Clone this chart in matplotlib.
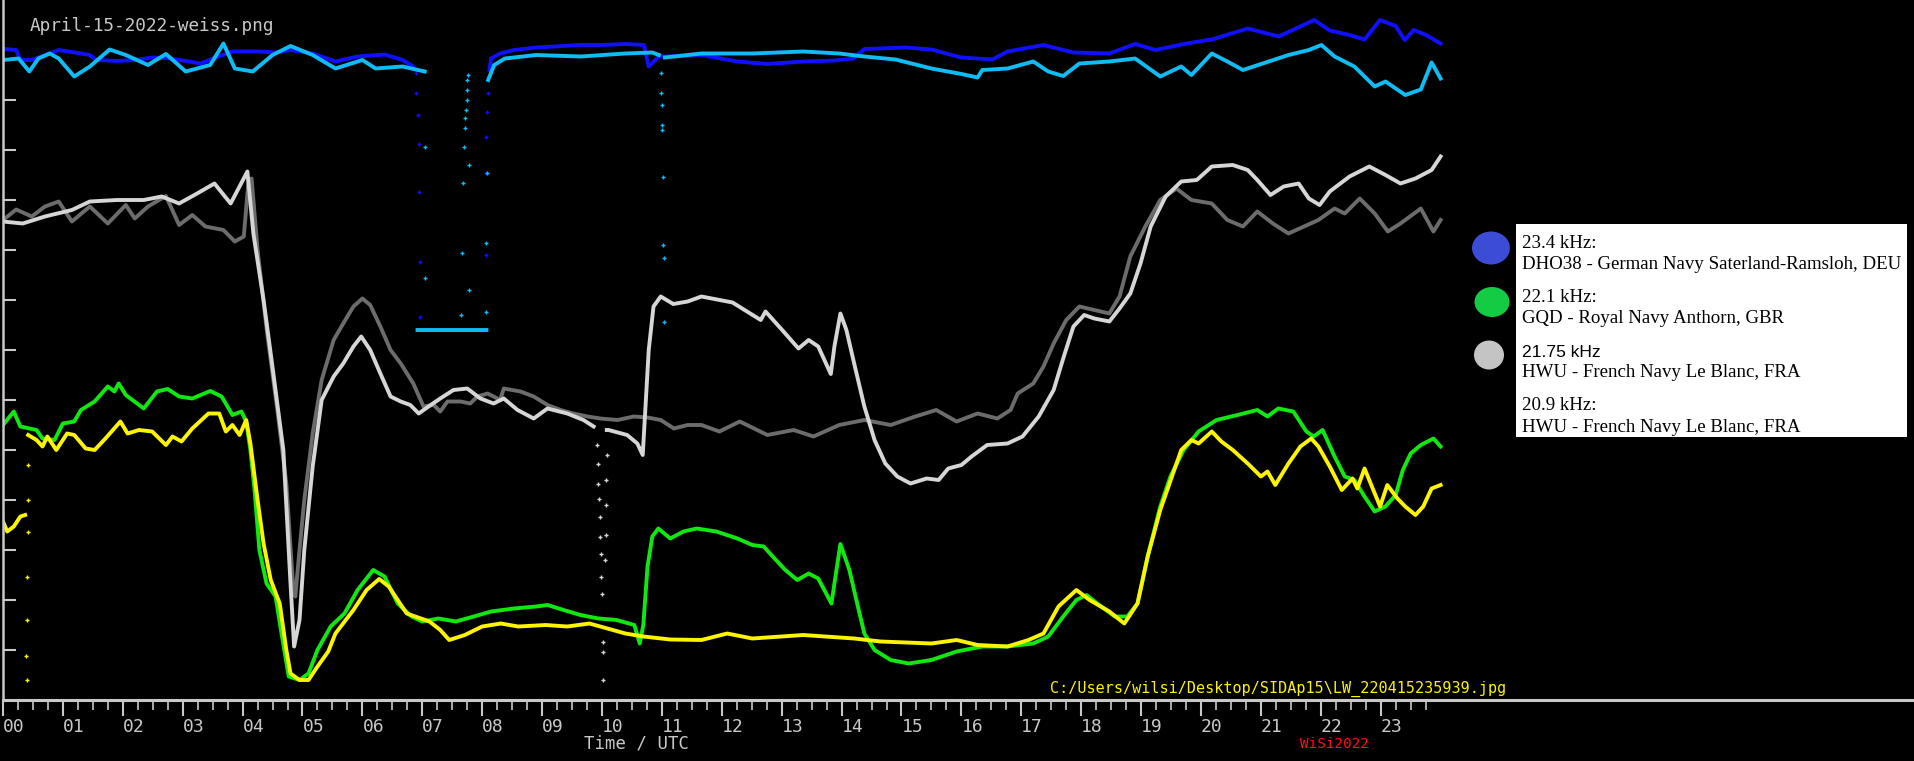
import numpy as np
import matplotlib.pyplot as plt
from matplotlib.patches import Ellipse, Rectangle

nan = np.nan

# hours (UTC) and signal level in tick units (13 ticks on the y axis, no labels)
# DHO38 23.4 kHz, dark blue trace
blue_h = [0.03, 0.22, 0.29, 0.48, 0.93, 1.2, 1.45, 1.56, 1.9, 2.2, 2.5, 2.8, 3.05, 3.3, 3.55, 3.83,
          4.28, 4.55, 4.8, 5.17, 5.55, 5.92, 6.37, 6.67, 6.85, nan,
          8.12, 8.15, 8.3, 8.53, 8.9, 9.2, 9.64, 10.0, 10.4, 10.7, 10.78, 10.95, 11.06, 11.66, 12.26,
          12.76, 13.36, 13.88, 14.2, 14.38, 15.07, 15.5, 16.0, 16.52, 16.77, 17.37, 17.87, 18.47,
          18.9, 19.24, 19.76, 20.18, 20.78, 21.3, 21.89, 22.15, 22.48, 22.73, 22.99, 23.25, 23.4,
          23.55, 23.76, 24.0]
blue_v = [13.02, 13.0, 12.8, 12.8, 13.0, 12.95, 12.9, 12.8, 12.78, 12.8, 12.85, 12.83, 12.78, 12.73,
          12.85, 12.97, 12.97, 12.95, 13.0, 12.93, 12.77, 12.87, 12.91, 12.8, 12.67, nan,
          12.6, 12.83, 12.93, 13.0, 13.05, 13.07, 13.1, 13.1, 13.12, 13.1, 12.67, 12.87, 12.87, 12.9,
          12.77, 12.72, 12.77, 12.79, 12.83, 13.02, 13.05, 13.01, 12.85, 12.81, 12.97, 13.1, 12.95,
          12.93, 13.12, 13.0, 13.13, 13.21, 13.43, 13.27, 13.6, 13.39, 13.3, 13.21, 13.6, 13.48, 13.2,
          13.4, 13.3, 13.13]
blue_dot_h = [6.90, 6.90, 6.92, 6.94, 6.94, 6.96, 6.96, 8.06, 8.07, 8.07, 8.08, 8.09, 8.10]
blue_dot_v = [12.54, 12.14, 11.7, 11.12, 10.16, 8.76, 7.66, 8.9, 10.54, 11.26, 11.76, 12.14, 12.46]

# DHO38 second trace, light blue
cyan_h = [0.0, 0.26, 0.44, 0.59, 0.78, 0.93, 1.19, 1.45, 1.78, 2.05, 2.42, 2.72, 3.05, 3.46, 3.68,
          3.87, 4.17, 4.5, 4.8, 5.17, 5.55, 6.0, 6.22, 6.67, 7.04, nan,
          6.92, 8.07, nan,
          8.1, 8.2, 8.38, 8.9, 9.64, 10.39, 10.84, 10.95, nan,
          11.05, 11.66, 12.51, 13.36, 13.96, 14.38, 14.9, 15.5, 16.0, 16.27, 16.35, 16.77, 17.2,
          17.45, 17.7, 17.97, 18.47, 18.9, 19.32, 19.67, 19.84, 20.18, 20.44, 20.7, 21.03, 21.46,
          21.8, 22.01, 22.23, 22.56, 22.9, 23.08, 23.41, 23.67, 23.85, 24.0]
cyan_v = [12.8, 12.83, 12.57, 12.83, 12.93, 12.83, 12.47, 12.67, 13.01, 12.9, 12.7, 12.92, 12.57,
          12.7, 13.13, 12.63, 12.57, 12.9, 13.08, 12.9, 12.63, 12.8, 12.63, 12.67, 12.57, nan,
          7.4, 7.4, nan,
          12.4, 12.7, 12.83, 12.9, 12.87, 12.93, 12.95, 12.9, nan,
          12.85, 12.93, 12.93, 12.97, 12.93, 12.87, 12.81, 12.63, 12.52, 12.45, 12.6, 12.63, 12.77,
          12.57, 12.48, 12.73, 12.77, 12.83, 12.47, 12.67, 12.5, 12.93, 12.77, 12.6, 12.73, 12.9,
          13.0, 13.1, 12.87, 12.67, 12.27, 12.37, 12.1, 12.21, 12.75, 12.43]
cyan_dot_h = [7.05, 7.05, 7.64, 7.66, 7.68, 7.70, 7.71, 7.72, 7.73, 7.74, 7.74, 7.75, 7.76, 7.78,
              7.78, 8.06, 8.07, 8.08, 10.98, 10.99, 11.0, 11.0, 11.01, 11.02, 11.02, 11.03, 11.03]
cyan_dot_v = [11.06, 8.44, 7.7, 8.94, 10.34, 11.06, 11.44, 11.64, 11.8, 12.0, 12.2, 12.4, 12.5, 10.7,
              8.2, 7.76, 9.14, 10.54, 12.54, 12.14, 11.9, 11.5, 11.4, 10.46, 9.1, 8.84, 7.56]

# HWU 21.75 kHz, light grey trace
lg_h = [0.0, 0.33, 0.7, 1.15, 1.45, 1.9, 2.35, 2.65, 2.94, 3.24, 3.53, 3.8, 4.08, 4.18, 4.35, 4.52,
        4.68, 4.8, 4.86, 4.95, 5.03, 5.17, 5.32, 5.52, 5.68, 5.85, 5.98, 6.13, 6.3, 6.47, 6.64, 6.8,
        6.94, 7.14, 7.3, 7.52, 7.75, 7.97, 8.19, 8.36, 8.59, 8.86, 9.09, 9.42, 9.69, 9.86, nan,
        10.08, 10.11, 10.42, 10.59, 10.68, 10.78, 10.86, 10.98, 11.19, 11.43, 11.66, 12.18, 12.38,
        12.65, 12.73, 13.03, 13.28, 13.45, 13.61, 13.82, 13.88, 13.98, 14.08, 14.21, 14.38, 14.55,
        14.73, 14.93, 15.15, 15.42, 15.62, 15.78, 16.0, 16.17, 16.43, 16.77, 17.02, 17.29, 17.54,
        17.71, 17.87, 18.05, 18.22, 18.47, 18.64, 18.82, 18.99, 19.16, 19.41, 19.67, 19.93, 20.18,
        20.53, 20.78, 20.94, 21.16, 21.38, 21.63, 21.8, 21.98, 22.15, 22.48, 22.81, 23.08, 23.33,
        23.58, 23.85, 24.0]
lg_v = [9.57, 9.53, 9.67, 9.8, 9.97, 10.0, 10.0, 10.07, 9.93, 10.13, 10.33, 9.93, 10.57, 9.33, 8.0,
        6.47, 5.0, 2.33, 1.07, 1.6, 3.0, 4.67, 6.0, 6.47, 6.73, 7.07, 7.27, 7.0, 6.53, 6.07, 5.97, 5.9,
        5.73, 5.9, 6.03, 6.2, 6.23, 6.03, 5.93, 6.03, 5.8, 5.63, 5.83, 5.73, 5.6, 5.47, nan,
        5.4, 5.4, 5.3, 5.13, 4.9, 7.0, 7.87, 8.07, 7.92, 7.97, 8.07, 7.95, 7.8,
        7.6, 7.77, 7.37, 7.03, 7.2, 7.07, 6.52, 7.07, 7.73, 7.4, 6.73, 5.87, 5.2,
        4.73, 4.47, 4.33, 4.43, 4.4, 4.63, 4.7, 4.87, 5.1, 5.13, 5.27, 5.67, 6.2,
        6.87, 7.47, 7.7, 7.63, 7.57, 7.83, 8.13, 8.73, 9.47, 10.07, 10.37, 10.4, 10.67,
        10.7, 10.6, 10.4, 10.1, 10.27, 10.33, 10.03, 9.9, 10.17, 10.47, 10.67, 10.5, 10.33,
        10.43, 10.6, 10.87]
lg_dot_h = [9.91, 9.93, 9.94, 9.95, 9.96, 9.97, 9.98, 9.99, 10.0, 10.01, 10.02, 10.02, 10.05, 10.06,
            10.06, 10.07, 10.08]
lg_dot_v = [5.1, 4.73, 4.33, 4.03, 3.67, 3.27, 2.93, 2.47, 2.13, 1.17, 0.97, 0.4, 2.8, 3.3, 3.9,
            4.4, 4.9]

# HWU second trace, dark grey
dg_h = [0.0, 0.22, 0.48, 0.7, 0.93, 1.15, 1.45, 1.75, 2.05, 2.2, 2.42, 2.72, 2.94, 3.16, 3.38, 3.68,
        3.87, 4.02, 4.1, 4.15, 4.25, 4.41, 4.58, 4.73, 4.84, 4.88, 4.95, 5.03, 5.17, 5.32, 5.52, 5.68,
        5.85, 6.0, 6.13, 6.3, 6.47, 6.64, 6.85, 7.02, 7.19, 7.3, 7.42, 7.64, 7.8, 7.92, 8.09, 8.19,
        8.3, 8.36, 8.64, 8.86, 9.09, 9.31, 9.52, 9.76, 9.97, 10.26, 10.53, 10.76, 10.98, 11.2, 11.43,
        11.66, 11.96, 12.3, 12.76, 13.2, 13.53, 13.96, 14.38, 14.82, 15.23, 15.58, 15.92, 16.27,
        16.6, 16.82, 16.94, 17.2, 17.37, 17.54, 17.75, 17.97, 18.22, 18.47, 18.64, 18.82, 19.07,
        19.32, 19.59, 19.84, 20.18, 20.44, 20.7, 20.94, 21.2, 21.46, 21.72, 21.96, 22.23, 22.4,
        22.65, 22.9, 23.12, 23.33, 23.67, 23.88, 24.0]
dg_v = [9.6, 9.81, 9.67, 9.87, 9.97, 9.57, 9.87, 9.53, 9.9, 9.63, 9.87, 10.08, 9.5, 9.7, 9.47, 9.4,
        9.17, 9.27, 10.4, 10.43, 9.0, 7.33, 5.8, 4.33, 2.33, 2.07, 3.0, 4.0, 5.33, 6.4, 7.2, 7.53,
        7.87, 8.03, 7.9, 7.47, 7.0, 6.73, 6.33, 5.87, 5.9, 5.77, 5.97, 5.97, 5.93, 6.07, 6.13, 6.07,
        6.0, 6.23, 6.17, 6.07, 5.9, 5.8, 5.73, 5.67, 5.63, 5.6, 5.67, 5.65, 5.6, 5.43, 5.5,
        5.5, 5.37, 5.57, 5.3, 5.4, 5.27, 5.5, 5.6, 5.5, 5.67, 5.8, 5.57, 5.73,
        5.63, 5.8, 6.13, 6.33, 6.67, 7.13, 7.6, 7.87, 7.8, 7.73, 8.07, 8.87, 9.47,
        10.0, 10.23, 10.0, 9.93, 9.6, 9.47, 9.77, 9.53, 9.33, 9.47, 9.6, 9.83, 9.73,
        10.03, 9.73, 9.37, 9.53, 9.83, 9.37, 9.6]

# GQD 22.1 kHz, green trace
gr_h = [0.0, 0.18, 0.29, 0.56, 0.66, 0.86, 1.0, 1.19, 1.3, 1.53, 1.75, 1.86, 1.93, 2.05, 2.35, 2.57,
        2.75, 2.94, 3.16, 3.46, 3.65, 3.83, 3.98, 4.06, 4.13, 4.2, 4.28, 4.4, 4.55, 4.65, 4.77, 4.95,
        5.1, 5.25, 5.47, 5.7, 5.92, 6.18, 6.37, 6.59, 6.82, 7.0, 7.27, 7.56, 7.86, 8.15, 8.53, 8.9,
        9.09, 9.36, 9.64, 9.94, 10.24, 10.54, 10.63, 10.69, 10.76, 10.84, 10.94, 11.14, 11.36, 11.58,
        11.91, 12.26, 12.51, 12.7, 12.85, 13.06, 13.26, 13.45, 13.61, 13.83, 13.98, 14.13, 14.26,
        14.38, 14.55, 14.82, 15.12, 15.5, 15.92, 16.35, 16.77, 17.2, 17.45, 17.7, 17.92, 18.09, 18.3,
        18.56, 18.77, 18.94, 19.11, 19.32, 19.49, 19.71, 19.96, 20.26, 20.61, 20.94, 21.11, 21.29,
        21.54, 21.76, 21.88, 22.03, 22.23, 22.4, 22.56, 22.73, 22.9, 23.08, 23.25, 23.37, 23.5,
        23.67, 23.88, 24.0]
gr_v = [5.5, 5.77, 5.47, 5.4, 5.23, 5.2, 5.53, 5.57, 5.8, 5.97, 6.27, 6.17, 6.33, 6.1, 5.83, 6.17,
        6.22, 6.07, 6.03, 6.18, 6.07, 5.7, 5.77, 5.57, 5.0, 4.2, 3.0, 2.33, 2.07, 1.33, 0.47, 0.4,
        0.53, 1.0, 1.47, 1.73, 2.2, 2.6, 2.47, 1.93, 1.67, 1.57, 1.63, 1.57, 1.67, 1.77, 1.83, 1.87,
        1.9, 1.8, 1.7, 1.63, 1.6, 1.5, 1.13, 1.5, 2.67, 3.27, 3.43, 3.23, 3.37, 3.43,
        3.37, 3.23, 3.1, 3.07, 2.87, 2.6, 2.4, 2.53, 2.43, 1.93, 3.12, 2.6, 1.93,
        1.33, 1.0, 0.8, 0.73, 0.8, 0.97, 1.07, 1.07, 1.13, 1.27, 1.67, 2.0, 2.1, 1.9,
        1.67, 1.67, 1.93, 2.87, 3.87, 4.47, 5.0, 5.37, 5.6, 5.7, 5.8, 5.67, 5.83,
        5.77, 5.37, 5.27, 5.4, 4.87, 4.47, 4.4, 4.07, 3.77, 3.87, 4.1, 4.6, 4.93,
        5.1, 5.23, 5.07]

# 20.9 kHz, yellow trace
ye_h = [0.0, 0.07, 0.18, 0.29, 0.37, nan,
        0.42, 0.56, 0.66, 0.74, 0.89, 1.07, 1.19, 1.38, 1.53, 1.71, 1.96, 2.08, 2.27, 2.49, 2.72, 2.83,
        2.98, 3.16, 3.43, 3.61, 3.72, 3.83, 3.95, 4.06, 4.13, 4.25, 4.35, 4.47, 4.62, 4.73, 4.8, 4.95,
        5.1, 5.25, 5.43, 5.55, 5.85, 6.07, 6.28, 6.44, 6.74, 7.12, 7.3, 7.45, 7.71, 8.0, 8.31, 8.6,
        9.06, 9.42, 9.79, 10.09, 10.39, 10.69, 11.14, 11.66, 12.09, 12.51, 13.36, 14.21, 14.65, 15.5,
        15.92, 16.27, 16.77, 17.12, 17.37, 17.62, 17.92, 18.14, 18.47, 18.72, 18.94, 19.11, 19.32,
        19.67, 19.84, 19.96, 20.18, 20.34, 20.53, 20.78, 21.0, 21.11, 21.24, 21.46, 21.66, 21.84,
        21.96, 22.15, 22.35, 22.53, 22.61, 22.73, 22.99, 23.11, 23.28, 23.41, 23.58, 23.71, 23.85,
        24.0]
ye_v = [3.57, 3.37, 3.47, 3.67, 3.7, nan,
        5.3, 5.2, 5.07, 5.27, 5.0, 5.33, 5.3, 5.03, 5.0, 5.23, 5.57, 5.33, 5.4, 5.37, 5.1, 5.27,
        5.17, 5.43, 5.73, 5.73, 5.37, 5.5, 5.3, 5.6, 5.13, 4.0, 3.13, 2.4, 1.93, 1.0, 0.53, 0.4,
        0.4, 0.67, 0.97, 1.33, 1.8, 2.2, 2.42, 2.27, 1.73, 1.57, 1.4, 1.2, 1.3, 1.47, 1.53, 1.47,
        1.5, 1.47, 1.53, 1.43, 1.33, 1.27, 1.21, 1.2, 1.33, 1.23, 1.3, 1.23, 1.17, 1.13,
        1.2, 1.1, 1.07, 1.2, 1.33, 1.87, 2.2, 2.0, 1.77, 1.53, 1.93, 2.87, 3.8,
        5.0, 5.2, 5.13, 5.37, 5.17, 5.0, 4.73, 4.47, 4.57, 4.3, 4.73, 5.07, 5.23,
        5.07, 4.67, 4.2, 4.43, 4.23, 4.63, 3.87, 4.3, 4.03, 3.87, 3.7, 3.87, 4.23,
        4.3]
ye_dot_h = [0.41, 0.41, 0.41, 0.40, 0.40, 0.39, 0.40]
ye_dot_v = [4.7, 4.0, 3.37, 2.47, 1.6, 0.88, 0.4]

hour_labels = ["%02d" % h for h in range(24)]

legend_rows = [
    ("23.4 kHz:", "serif"), ("DHO38 - German Navy Saterland-Ramsloh, DEU", "serif"),
    ("22.1 kHz:", "serif"), ("GQD - Royal Navy Anthorn, GBR", "serif"),
    ("21.75 kHz", "sans"), ("HWU - French Navy Le Blanc, FRA", "serif"),
    ("20.9 kHz:", "serif"), ("HWU - French Navy Le Blanc, FRA", "serif"),
]

W, H = 1914, 761
AX = "#c8c8c8"
MONO = "DejaVu Sans Mono"

fig = plt.figure(figsize=(W / 100, H / 100), dpi=100, facecolor="black")
ax = fig.add_axes([3 / W, 1 - 700 / H, 1 - 3 / W, 700 / H])
ax.set_facecolor("black")
ax.set_xlim(0, (W - 3) / 59.9)
ax.set_ylim(0, 14)

lw = 2.8
ax.plot(dg_h, dg_v, color="#6c6c6c", lw=lw)
ax.plot(lg_h, lg_v, color="#d6d6d6", lw=lw)
ax.plot(lg_dot_h, lg_dot_v, "+", color="#d6d6d6", ms=3, mew=1)
ax.plot(gr_h, gr_v, color="#10e810", lw=lw)
ax.plot(ye_h, ye_v, color="#fcf400", lw=lw)
ax.plot(ye_dot_h, ye_dot_v, "+", color="#fcf400", ms=3, mew=1)
ax.plot(blue_h, blue_v, color="#1010ff", lw=lw)
ax.plot(blue_dot_h, blue_dot_v, "+", color="#1010ff", ms=3, mew=1)
ax.plot(cyan_h, cyan_v, color="#10bcf4", lw=lw)
ax.plot(cyan_dot_h, cyan_dot_v, "+", color="#10bcf4", ms=3, mew=1)

for s in ["top", "right"]:
    ax.spines[s].set_visible(False)
ax.spines["left"].set_color(AX)
ax.spines["left"].set_linewidth(1.8)
ax.spines["bottom"].set_color(AX)
ax.spines["bottom"].set_linewidth(2.2)

ax.set_yticks(range(1, 14))
ax.set_yticklabels([])
ax.tick_params(axis="y", direction="in", length=9.5, width=1.5, color=AX)

ax.set_xticks(range(24))
ax.set_xticklabels(hour_labels, family=MONO)
ax.set_xticks([i * 0.25 for i in range(96) if i % 4], minor=True)
ax.tick_params(axis="x", which="major", direction="out", length=11.5, width=1.5, color=AX,
               labelcolor=AX, labelsize=13, pad=1.5)
ax.tick_params(axis="x", which="minor", direction="out", length=7, width=1.2, color=AX)
for t in ax.get_xticklabels():
    t.set_ha("left")

# overlay in pixel coordinates for the annotations and the legend panel
ov = fig.add_axes([0, 0, 1, 1])
ov.set_xlim(0, W)
ov.set_ylim(H, 0)
ov.axis("off")
ov.patch.set_alpha(0)

ov.text(30, 31, "April-15-2022-weiss.png", color=AX, fontsize=12.8, family=MONO, va="baseline")
ov.text(636, 743, "Time / UTC", color=AX, fontsize=12.5, family=MONO, ha="center", va="center")
ov.text(1334, 744, "WiSi2022", color="#ff1010", fontsize=10.3, family=MONO, ha="center",
        va="center")
ov.text(1050, 693, "C:/Users/wilsi/Desktop/SIDAp15\\LW_220415235939.jpg", color="#fcf400",
        fontsize=10.9, family=MONO, va="baseline")

ov.add_patch(Rectangle((1516, 224), 391, 213, facecolor="white", edgecolor="none"))
ov.add_patch(Ellipse((1491, 248), 38, 33, facecolor="#3c4cd6", edgecolor="none"))
ov.add_patch(Ellipse((1492, 302), 35, 30, facecolor="#14cc44", edgecolor="none"))
ov.add_patch(Ellipse((1489, 355), 30, 29, facecolor="#c4c4c4", edgecolor="none"))
baselines = [248, 269, 302, 323, 357, 377, 410, 432]
for (txt, fam), yb in zip(legend_rows, baselines):
    family = "Liberation Serif" if fam == "serif" else "Liberation Sans"
    size = 13.6 if fam == "serif" else 12.6
    ov.text(1522, yb, txt, color="black", fontsize=size, family=family, va="baseline")

fig.savefig("out.png", dpi=100, facecolor="black")
